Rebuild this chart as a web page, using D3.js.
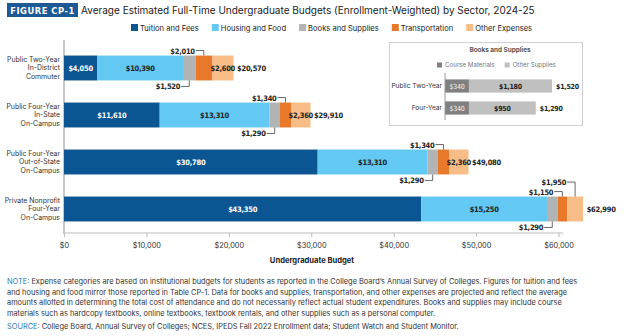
<!DOCTYPE html>
<html>
<head>
<meta charset="utf-8">
<script src="https://cdn.jsdelivr.net/npm/d3@7"></script>
<style>
  body { margin: 0; background: #fff; }
  svg text { font-family: Inter, "Noto Sans", sans-serif; fill: #222; }
  .num { font-family: "Liberation Sans Narrow", "DejaVu Sans Condensed", sans-serif; font-weight: bold; letter-spacing: -0.25px; }
</style>
</head>
<body>
<div id="chart"></div>
<script>
"use strict";

// data
const sectors = [
    ["Public Two-Year", "In-District", "Commuter"],
    ["Public Four-Year", "In-State", "On-Campus"],
    ["Public Four-Year", "Out-of-State", "On-Campus"],
    ["Private Nonprofit", "Four-Year", "On-Campus"]
];
const categories = ["Tuition and Fees", "Housing and Food", "Books and Supplies", "Transportation", "Other Expenses"];
const tuition = [4050, 11610, 30780, 43350];
const housing = [10390, 13310, 13310, 15250];
const books = [1520, 1290, 1290, 1290];
const transport = [2010, 1340, 1340, 1150];
const other = [2600, 2360, 2360, 1950];
const totals = [20570, 29910, 49080, 62990];
const xTicks = [0, 10000, 20000, 30000, 40000, 50000, 60000];

// inset: books and supplies split
const insetRows = ["Public Two-Year", "Four-Year"];
const insetParts = ["Course Materials", "Other Supplies"];
const courseMaterials = [340, 340];
const otherSupplies = [1180, 950];
const insetTotals = [1520, 1290];

const noteLines = [
    "Expense categories are based on institutional budgets for students as reported in the College Board\u2019s Annual Survey of Colleges. Figures for tuition and fees",
    "and housing and food mirror those reported in Table CP-1. Data for books and supplies, transportation, and other expenses are projected and reflect the average",
    "amounts allotted in determining the total cost of attendance and do not necessarily reflect actual student expenditures. Books and supplies may include course",
    "materials such as hardcopy textbooks, online textbooks, textbook rentals, and other supplies such as a personal computer."
];
const sourceText = "College Board, Annual Survey of Colleges; NCES, IPEDS Fall 2022 Enrollment data; Student Watch and Student Monitor.";

const colors = ["#0a5592", "#63c8f2", "#b2b3b5", "#e8792a", "#f8bc87"];
const fmt = d => "$" + d3.format(",")(d);

const W = 624, H = 336;
const svg = d3.select("#chart").append("svg").attr("width", W).attr("height", H);

// title
svg.append("rect").attr("x", 7).attr("y", 3).attr("width", 71).attr("height", 14).attr("fill", "#1b5a94");
svg.append("text").attr("x", 42.5).attr("y", 13.6).attr("text-anchor", "middle")
    .style("font-family", "'DejaVu Sans'").style("font-weight", "bold").style("font-size", "8.4px")
    .style("letter-spacing", "0.5px").style("fill", "#fff").text("FIGURE CP-1");
svg.append("text").attr("x", 81).attr("y", 14).style("font-size", "10px")
    .text("Average Estimated Full-Time Undergraduate Budgets (Enrollment-Weighted) by Sector, 2024-25");

// legend
let lx = 131;
categories.forEach((c, i) => {
    svg.append("rect").attr("x", lx).attr("y", 24).attr("width", 7).attr("height", 7).attr("fill", colors[i]);
    let t = svg.append("text").attr("x", lx + 9).attr("y", 30.5).style("font-size", "7.6px").text(c);
    lx += 9 + t.node().getComputedTextLength() + 13;
});

// main chart scales
const x = d3.scaleLinear().domain([0, 60000]).range([64, 558.5]);
const y = d3.scaleBand().domain(d3.range(sectors.length)).range([44.5, 232.5])
    .paddingInner(0.47).paddingOuter(0.235);

// axis
const xAxis = d3.axisBottom(x).tickValues(xTicks).tickFormat(fmt).tickSize(4).tickSizeOuter(0);
const ax = svg.append("g").attr("transform", "translate(0,233)").call(xAxis);
ax.select(".domain").attr("d", `M${x(0)},0H563`).attr("stroke", "#bbb");
ax.selectAll(".tick line").attr("stroke", "#bbb");
ax.selectAll(".tick text").attr("y", 10).style("font-size", "7.4px").style("fill", "#333");
svg.append("line").attr("x1", 64).attr("x2", 64).attr("y1", 40).attr("y2", 234)
    .attr("stroke", "#c8c8c8").attr("stroke-width", 2);
svg.append("text").attr("x", 312).attr("y", 263).attr("text-anchor", "middle")
    .style("font-size", "7.6px").style("font-weight", "bold").text("Undergraduate Budget");

// sector labels
sectors.forEach((lines, i) => {
    let t = svg.append("text").attr("text-anchor", "end").style("font-size", "6.9px").style("fill", "#333");
    lines.forEach((l, k) => {
        t.append("tspan").attr("x", 60).attr("y", y(i) + y.bandwidth() / 2 - 6 + k * 8.3).text(l);
    });
});

// stacked bars
const series = [tuition, housing, books, transport, other];
const rows = sectors.map((s, i) => {
    let start = 0;
    return series.map((vals, k) => {
        let seg = { row: i, key: k, x0: start, x1: start + vals[i], value: vals[i] };
        start += vals[i];
        return seg;
    });
});

const g = svg.append("g");
rows.forEach(segs => {
    g.selectAll(null).data(segs).enter().append("rect")
        .attr("x", d => x(d.x0))
        .attr("y", d => y(d.row))
        .attr("width", d => x(d.x1) - x(d.x0))
        .attr("height", y.bandwidth())
        .attr("fill", d => colors[d.key]);
});

// value labels
rows.forEach((segs, i) => {
    let top = y(i), bot = y(i) + y.bandwidth(), mid = top + y.bandwidth() / 2;
    let level = 0;
    segs.forEach(d => {
        let w = x(d.x1) - x(d.x0);
        let cx = (x(d.x0) + x(d.x1)) / 2;
        if (d.key !== 2 && w >= 18) {
            g.append("text").attr("class", "num").attr("x", cx).attr("y", mid + 3)
                .attr("text-anchor", "middle").style("font-size", "7.5px")
                .style("fill", d.key === 0 ? "#fff" : "#222").text(fmt(d.value));
            return;
        }
        // callout: books go below, the rest stack above
        let ly;
        if (d.key === 2) {
            ly = bot + 6;
        } else {
            ly = top - 5 - level * 9.5;
            level++;
        }
        g.append("text").attr("class", "num").attr("x", cx - 9).attr("y", ly + 3)
            .attr("text-anchor", "end").style("font-size", "7.5px").text(fmt(d.value));
        g.append("path").attr("d", `M${cx - 8},${ly}H${cx}V${d.key === 2 ? bot : top}`)
            .attr("fill", "none").attr("stroke", "#444").attr("stroke-width", 0.8);
    });
    g.append("text").attr("class", "num").attr("x", x(totals[i]) + 3.5).attr("y", mid + 3)
        .style("font-size", "7.5px").text(fmt(totals[i]));
});

// inset box
const inset = svg.append("g");
inset.append("rect").attr("x", 389.5).attr("y", 42.5).attr("width", 193).attr("height", 83)
    .attr("fill", "#fff").attr("stroke", "#d0d0d0");
inset.append("text").attr("x", 500).attr("y", 52).attr("text-anchor", "middle")
    .style("font-size", "6.4px").style("font-weight", "bold").style("fill", "#555").text("Books and Supplies");
const insetColors = ["#808080", "#c0c0c0"];
let ix = 437;
insetParts.forEach((p, i) => {
    inset.append("rect").attr("x", ix).attr("y", 62.5).attr("width", 5).attr("height", 5).attr("fill", insetColors[i]);
    let t = inset.append("text").attr("x", ix + 8).attr("y", 67.3).style("font-size", "6.2px")
        .style("fill", "#777").text(p);
    ix += 8 + t.node().getComputedTextLength() + 10;
});

const xi = d3.scaleLinear().domain([0, 1520]).range([445, 552]);
const yi = d3.scaleBand().domain(d3.range(insetRows.length)).range([75, 119])
    .paddingInner(0.4).paddingOuter(0.2);
insetRows.forEach((r, i) => {
    let top = yi(i), h = yi.bandwidth(), mid = top + h / 2;
    let parts = [courseMaterials[i], otherSupplies[i]];
    let start = 0;
    parts.forEach((v, k) => {
        inset.append("rect").attr("x", xi(start)).attr("y", top).attr("width", xi(start + v) - xi(start))
            .attr("height", h).attr("fill", insetColors[k]);
        inset.append("text").attr("class", "num").attr("x", (xi(start) + xi(start + v)) / 2).attr("y", mid + 2.5)
            .attr("text-anchor", "middle").style("font-size", "7px")
            .style("font-weight", k === 0 ? "normal" : "bold")
            .style("fill", k === 0 ? "#f2f2f2" : "#222").text(fmt(v));
        start += v;
    });
    inset.append("text").attr("class", "num").attr("x", xi(insetTotals[i]) + 4).attr("y", mid + 2.5)
        .style("font-size", "7px").text(fmt(insetTotals[i]));
    inset.append("text").attr("x", 442).attr("y", mid + 2.3).attr("text-anchor", "end")
        .style("font-size", "6.6px").style("fill", "#333").text(r);
});
inset.append("line").attr("x1", 445).attr("x2", 445).attr("y1", 73).attr("y2", 120)
    .attr("stroke", "#999").attr("stroke-width", 1);

// notes
const notes = svg.append("g").style("font-size", "7.4px");
noteLines.forEach((l, i) => {
    let t = notes.append("text").attr("x", 7).attr("y", 284 + i * 10.7).style("fill", "#333");
    if (i === 0) t.append("tspan").style("fill", "#2b7bbd").text("NOTE: ");
    t.append("tspan").text(l);
});
let s = notes.append("text").attr("x", 7).attr("y", 329).style("fill", "#333");
s.append("tspan").style("fill", "#2b7bbd").text("SOURCE: ");
s.append("tspan").text(sourceText);
</script>
</body>
</html>
